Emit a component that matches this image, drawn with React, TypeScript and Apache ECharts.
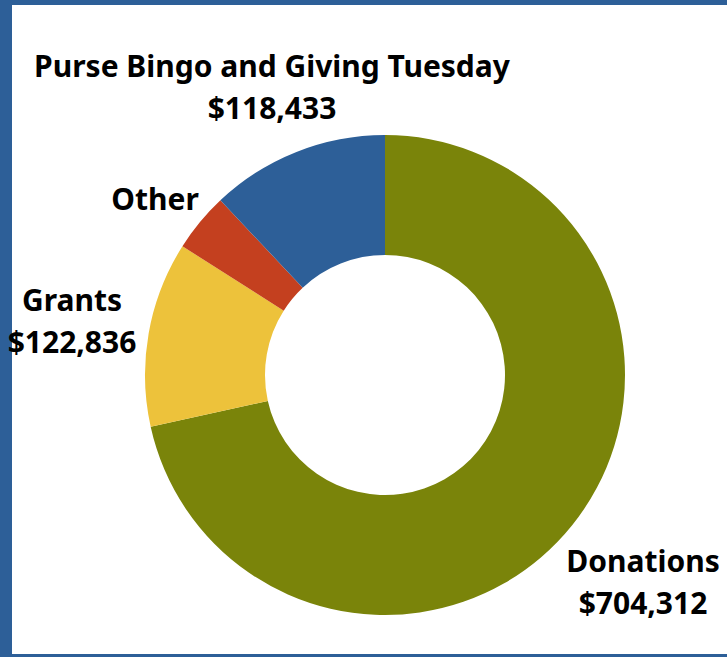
import React, { useEffect, useRef } from "react";
import * as echarts from "echarts";

const categories = ["Donations", "Grants", "Other", "Purse Bingo and Giving Tuesday"];
const values = [704312, 122836, 39000, 118433];
const showValue = [true, true, false, true];
const colors = ["#7A840A", "#EDC23B", "#C4401F", "#2D5F98"];
const labelPos: [number, number][] = [
  [643, 581],
  [72, 320],
  [155, 198],
  [272, 86],
];

export default function App() {
  const ref = useRef<HTMLDivElement>(null);
  useEffect(() => {
    if (!ref.current) return;
    const chart = echarts.init(ref.current, undefined, { renderer: "svg" });
    chart.setOption({
      animation: false,
      backgroundColor: "#ffffff",
      graphic: [
        { type: "rect", shape: { x: 0, y: 0, width: 727, height: 5 }, style: { fill: "#2D5F98" } },
        { type: "rect", shape: { x: 0, y: 0, width: 12, height: 657 }, style: { fill: "#2D5F98" } },
        { type: "rect", shape: { x: 0, y: 654, width: 727, height: 3 }, style: { fill: "#2D5F98" } },
      ],
      series: [
        {
          type: "pie",
          center: [385, 375],
          radius: [120, 240],
          startAngle: 90,
          clockwise: true,
          silent: true,
          data: categories.map((c, i) => ({
            name: c,
            value: values[i],
            itemStyle: { color: colors[i] },
          })),
          label: {
            show: true,
            position: "outside",
            fontFamily: "Noto Sans",
            fontWeight: "bold",
            fontSize: 30,
            lineHeight: 42,
            color: "#000000",
            align: "center",
            overflow: "none",
            formatter: (p: any) =>
              showValue[p.dataIndex]
                ? `${p.name}\n$${Number(p.value).toLocaleString("en-US")}`
                : p.name,
          },
          labelLine: { show: false },
          labelLayout: (p: any) => ({
            x: labelPos[p.dataIndex][0],
            y: labelPos[p.dataIndex][1],
            align: "center",
            verticalAlign: "middle",
            width: 600,
          }),
        },
      ],
    });
    return () => chart.dispose();
  }, []);
  return (
    <div
      ref={ref}
      style={{ position: "fixed", left: 0, top: 0, width: 727, height: 657 }}
    />
  );
}
